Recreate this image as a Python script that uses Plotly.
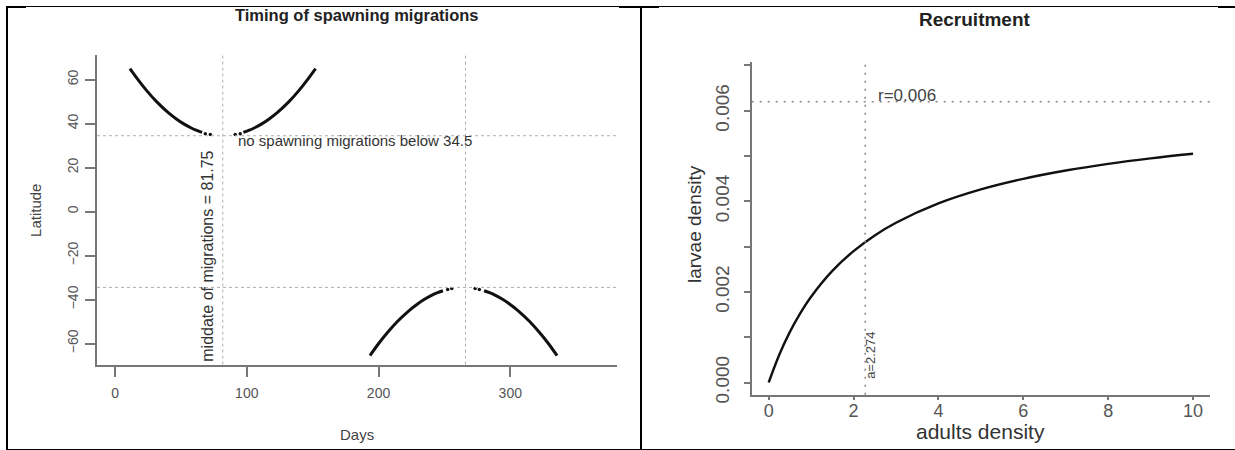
import plotly.graph_objects as go

W, H = 1235, 450
H_FIG = 460  # the page is photographed slightly taller than 450 and squeezed back; compensate

# ---------------- data ----------------
# Left panel: timing of spawning migrations
upper_lat = [65, 60, 55, 50, 45, 42, 40, 38, 37, 36]
upper_left_days = [11.3, 17.4, 24.0, 31.5, 40.4, 46.8, 51.8, 57.9, 61.6, 66.1]
upper_right_days = [152.2, 146.1, 139.5, 132.0, 123.1, 116.7, 111.7, 105.6, 101.9, 97.4]
upper_dot_lat = [35.4, 35.0]
upper_left_dot_days = [68.5, 72.3]
upper_right_dot_days = [95.0, 91.2]

lower_lat = [-65.5, -60, -55, -50, -45, -42, -40, -38, -37, -36]
lower_left_days = [193.5, 200.1, 206.8, 214.3, 223.2, 229.6, 234.6, 240.6, 244.3, 248.9]
lower_right_days = [335.5, 328.9, 322.2, 314.7, 305.8, 299.4, 294.4, 288.4, 284.7, 280.1]
lower_dot_lat = [-35.4, -35.0]
lower_left_dot_days = [252.5, 255.6]
lower_right_dot_days = [276.5, 273.3]

threshold_lat = [34.5, -34.5]
middate_days = [81.75, 266.0]
left_xticks = [0, 100, 200, 300]
left_yticks = [60, 40, 20, 0, -20, -40, -60]

# Right panel: recruitment
adults = [0, 0.25, 0.5, 0.75, 1, 1.5, 2, 2.5, 3, 4, 5, 6, 7, 8, 9, 10]
larvae = [0, 0.000614, 0.001118, 0.001538, 0.001894, 0.002464, 0.002901, 0.003247,
          0.003527, 0.003953, 0.004262, 0.004496, 0.00468, 0.004828, 0.004949, 0.00505]
r_value = 0.0062
a_value = 2.274
right_xticks = [0, 2, 4, 6, 8, 10]
right_yticks = [0.000, 0.002, 0.004, 0.006]


def px(x):
    return x / W


def py(y):
    return 1 - y / H


FONT = "Liberation Sans, Arial, sans-serif"
TICKC = "#555555"
AXC = "#777777"
CURVE = "#111111"

fig = go.Figure()

# left curves
for xs, ys in [(upper_left_days, upper_lat), (upper_right_days, upper_lat),
               (lower_left_days, lower_lat), (lower_right_days, lower_lat)]:
    fig.add_trace(go.Scatter(x=xs, y=ys, mode="lines", line=dict(color=CURVE, width=3, shape="spline"),
                             xaxis="x", yaxis="y", showlegend=False, hoverinfo="skip"))
for xs, ys in [(upper_left_dot_days, upper_dot_lat), (upper_right_dot_days, upper_dot_lat),
               (lower_left_dot_days, lower_dot_lat), (lower_right_dot_days, lower_dot_lat)]:
    fig.add_trace(go.Scatter(x=xs, y=ys, mode="markers", marker=dict(color=CURVE, size=3.5),
                             xaxis="x", yaxis="y", showlegend=False, hoverinfo="skip"))

# right curve
fig.add_trace(go.Scatter(x=adults, y=larvae, mode="lines", line=dict(color=CURVE, width=2.4, shape="spline"),
                         xaxis="x2", yaxis="y2", showlegend=False, hoverinfo="skip"))

shapes = []
# dotted reference lines left
for lat in threshold_lat:
    shapes.append(dict(type="line", xref="x domain", yref="y", x0=0, x1=1, y0=lat, y1=lat,
                       line=dict(color="#b0b0b0", width=1, dash="dot")))
for d in middate_days:
    shapes.append(dict(type="line", xref="x", yref="y domain", x0=d, x1=d, y0=0, y1=1,
                       line=dict(color="#b0b0b0", width=1, dash="dot")))
# dotted reference lines right
shapes.append(dict(type="line", xref="x2 domain", yref="y2", x0=0, x1=1, y0=r_value, y1=r_value,
                   line=dict(color="#888888", width=1.5, dash="2px,6px")))
shapes.append(dict(type="line", xref="x2", yref="y2 domain", x0=a_value, x1=a_value, y0=0, y1=1,
                   line=dict(color="#888888", width=1.5, dash="2px,6px")))


# frame (table borders)
def pline(x0, y0, x1, y1, w):
    shapes.append(dict(type="line", xref="paper", yref="paper", x0=px(x0), y0=py(y0), x1=px(x1), y1=py(y1),
                       line=dict(color="black", width=w)))


pline(6, 6.5, 1235, 6.5, 1)
pline(6, 7, 26, 7, 2)
pline(619, 7, 659, 7, 2)
pline(1218, 7, 1235, 7, 2)
pline(7, 6, 7, 450, 2)
pline(641, 6, 641, 450, 2)
pline(6, 448.5, 1235, 448.5, 3)

annotations = [
    dict(text="<b>Timing of spawning migrations</b>", x=px(357), y=py(15), xref="paper", yref="paper",
         showarrow=False, font=dict(size=16.5, color="#222222", family=FONT), xanchor="center", yanchor="middle"),
    dict(text="<b>Recruitment</b>", x=px(975), y=py(19), xref="paper", yref="paper",
         showarrow=False, font=dict(size=19, color="#222222", family=FONT), xanchor="center", yanchor="middle"),
    dict(text="Latitude", x=px(36), y=py(210), xref="paper", yref="paper", textangle=-90,
         showarrow=False, font=dict(size=15, color="#444444", family=FONT), xanchor="center", yanchor="middle"),
    dict(text="Days", x=px(357), y=py(433), xref="paper", yref="paper",
         showarrow=False, font=dict(size=15, color="#444444", family=FONT), xanchor="center", yanchor="middle"),
    dict(text="larvae density", x=px(695), y=py(223), xref="paper", yref="paper", textangle=-90,
         showarrow=False, font=dict(size=19, color="#333333", family=FONT), xanchor="center", yanchor="middle"),
    dict(text="adults density", x=px(980), y=py(430), xref="paper", yref="paper",
         showarrow=False, font=dict(size=21, color="#333333", family=FONT), xanchor="center", yanchor="middle"),
    dict(text="no spawning migrations below 34.5", x=92, y=32.3, xref="x", yref="y",
         showarrow=False, font=dict(size=15, color="#333333", family=FONT), xanchor="left", yanchor="middle"),
    dict(text="middate of migrations = 81.75", x=70.6, y=-20.5, xref="x", yref="y", textangle=-90,
         showarrow=False, font=dict(size=16, color="#333333", family=FONT), xanchor="center", yanchor="middle"),
    dict(text="r=0.006", x=2.53, y=0.00634, xref="x2", yref="y2",
         showarrow=False, font=dict(size=17, color="#444444", family=FONT), xanchor="left", yanchor="middle"),
    dict(text="a=2.274", x=2.40, y=0.0006, xref="x2", yref="y2", textangle=-90,
         showarrow=False, font=dict(size=13, color="#444444", family=FONT), xanchor="center", yanchor="middle"),
]

fig.update_layout(
    width=W, height=H_FIG,
    margin=dict(l=0, r=0, t=0, b=0, pad=0),
    paper_bgcolor="white", plot_bgcolor="white",
    showlegend=False,
    shapes=shapes,
    annotations=annotations,
    xaxis=dict(domain=[px(97), px(617)], range=[-13.7, 381], tickvals=left_xticks,
               showline=True, linecolor=AXC, linewidth=1.5, ticks="outside", ticklen=11, tickcolor=AXC,
               tickwidth=1.5, showgrid=False, zeroline=False, ticklabelstandoff=4,
               tickfont=dict(size=14, color=TICKC, family=FONT), anchor="y"),
    yaxis=dict(domain=[py(363), py(55)], range=[-69.6, 71.1], tickvals=left_yticks,
               showline=True, linecolor=AXC, linewidth=1.5, ticks="outside", ticklen=10, tickcolor=AXC,
               tickwidth=1.5, showgrid=False, zeroline=False, tickangle=-90, ticklabelstandoff=2,
               tickfont=dict(size=14, color=TICKC, family=FONT), anchor="x"),
    xaxis2=dict(domain=[px(751.7), px(1210)], range=[-0.4, 10.4], tickvals=right_xticks,
                showline=True, linecolor=AXC, linewidth=2, ticks="outside", ticklen=3, tickcolor=AXC,
                tickwidth=1.5, showgrid=False, zeroline=False, ticklabelstandoff=-4,
                tickfont=dict(size=18, color=TICKC, family=FONT), anchor="y2"),
    yaxis2=dict(domain=[py(393), py(62)], range=[-0.00027, 0.00707], tickvals=right_yticks,
                tickformat=".3f",
                showline=True, linecolor=AXC, linewidth=2, ticks="outside", ticklen=6, tickcolor=AXC,
                tickwidth=1.5, showgrid=False, zeroline=False, tickangle=-90, ticklabelstandoff=7,
                minor=dict(tickvals=[0.001, 0.003, 0.005, 0.007], ticks="outside", ticklen=6,
                           tickcolor=AXC, tickwidth=1.5, showgrid=False),
                tickfont=dict(size=19, color=TICKC, family=FONT), anchor="x2"),
)

POST = (
    "var gd=document.getElementById('{plot_id}');"
    "gd.style.display='block';"
    "document.documentElement.style.margin='0';document.documentElement.style.padding='0';"
    "document.documentElement.style.overflow='hidden';"
    "document.body.style.margin='0';document.body.style.padding='0';"
    "document.body.style.overflow='hidden';"
)

fig.write_html("out.html", config={"displayModeBar": False, "responsive": False}, post_script=POST)
